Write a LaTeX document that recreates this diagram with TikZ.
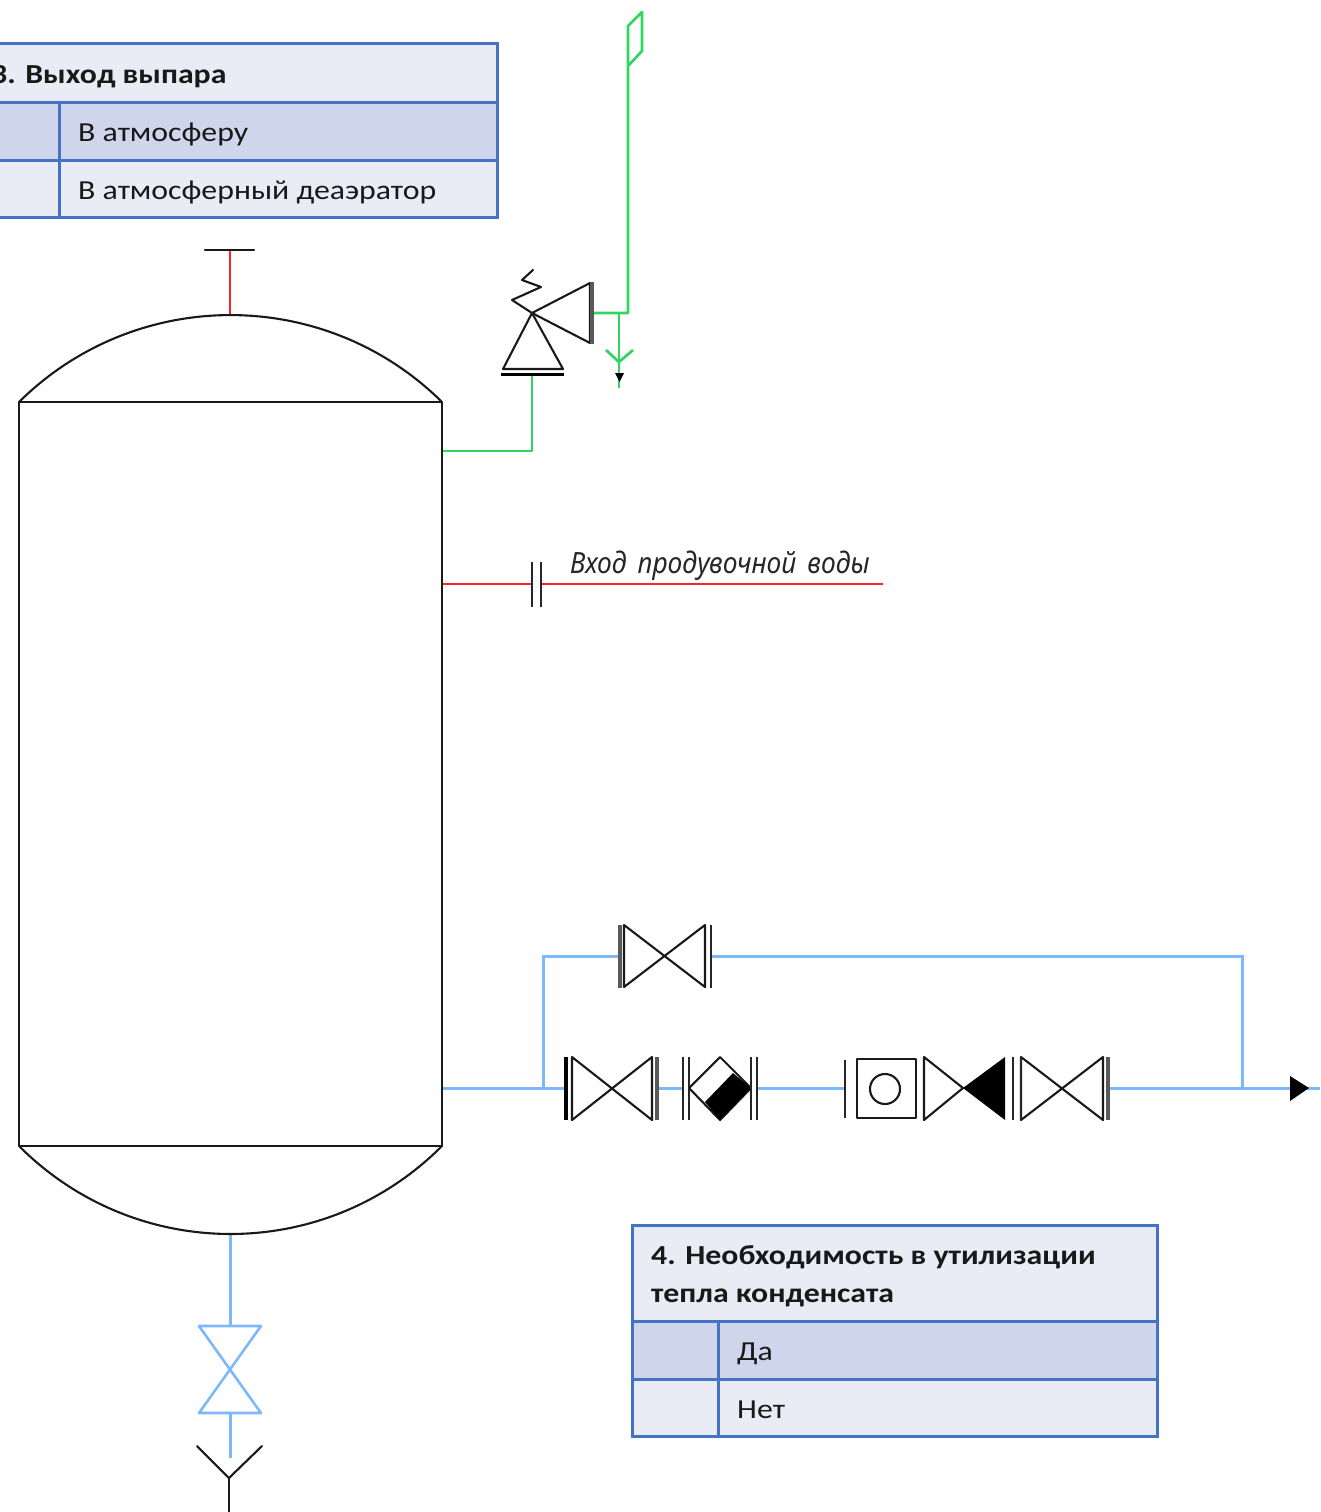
\documentclass[tikz,border=0pt]{standalone}
\usepackage{fontspec}
\setmainfont[FakeStretch=1.156]{Carlito}
\newfontfamily\labelfont[FakeStretch=0.9,WordSpace=1.6]{Noto Sans}
\tikzset{
  x=1pt,y=-1pt,
  sym/.style={draw=black!90,line width=2.1pt,line join=round,line cap=round},
  thick flange/.style={draw=black!65,line width=4pt},
  flange/.style={draw=black!85,line width=2.5pt},
  blueline/.style={draw=pipeblue,line width=3pt},
  greenline/.style={draw=pipegreen,line width=2.7pt,line join=round},
  redline/.style={draw=pipered,line width=2.3pt},
  tabhead/.style={fill=tabA,draw=tabline,line width=3pt},
  tabdark/.style={fill=tabB,draw=tabline,line width=3pt},
  tablight/.style={fill=tabA,draw=tabline,line width=3pt},
  tabtext/.style={anchor=base west,inner sep=0pt,font=\fontsize{27.5}{33}\selectfont,text=black!90},
  tabbold/.style={tabtext,font=\fontsize{27.5}{33}\selectfont\bfseries}
}
\definecolor{pipeblue}{HTML}{7DB9FA}
\definecolor{pipegreen}{HTML}{33D45F}
\definecolor{pipered}{HTML}{F0282D}
\definecolor{tabA}{HTML}{E9EBF5}
\definecolor{tabB}{HTML}{CFD5EA}
\definecolor{tabline}{HTML}{4472C4}
\begin{document}
\begin{tikzpicture}
\useasboundingbox (0,0) rectangle (1320,1512);
% named connection points
\coordinate (topapex) at (230,315);
\coordinate (topend) at (230,250);
\coordinate (greenout) at (442,451);
\coordinate (greenbend) at (532,451);
\coordinate (rvin) at (532,375);
\coordinate (rvout) at (592,313);
\coordinate (rvbend) at (628,313);
\coordinate (ventbot) at (628,66);
\coordinate (draintee) at (619,313);
\coordinate (draintop) at (619,362);
\coordinate (drainend) at (619,388);
\coordinate (redout) at (442,584);
\coordinate (fl1) at (532,584);
\coordinate (fl2) at (541,584);
\coordinate (redend) at (883,584);
\coordinate (blueout) at (442,1088);
\coordinate (teeA) at (543,1088);
\coordinate (cornerA) at (543,956);
\coordinate (bypassL) at (620,956);
\coordinate (bypassR) at (711,956);
\coordinate (cornerB) at (1242,956);
\coordinate (teeB) at (1242,1088);
\coordinate (v1L) at (566,1088);
\coordinate (v1R) at (658,1088);
\coordinate (chkL) at (683,1088);
\coordinate (chkR) at (757,1088);
\coordinate (trapL) at (845,1088);
\coordinate (v3R) at (1108,1088);
\coordinate (outEnd) at (1320,1088);
\coordinate (botapex) at (230,1234);
\coordinate (dvT) at (230,1326);
\coordinate (dvB) at (230,1413);
\coordinate (dvEnd) at (230,1458);
\coordinate (funnel) at (229,1478);
\coordinate (funnelEnd) at (229,1512);

% pipes
\draw[redline] (topapex) -- (topend);
\draw[greenline] (greenout) -- (greenbend) -- (rvin);
\draw[greenline] (rvout) -- (rvbend) -- (ventbot) -- (642,51) -- (642,12) -- (628,26) -- (ventbot);
\draw[greenline] (draintee) -- (draintop) -- (drainend);
\draw[greenline] (606,350) -- (draintop) -- (633,350);
\draw[redline] (redout) -- (fl1);
\draw[redline] (fl2) -- (redend);
\draw[blueline] (blueout) -- (v1L);
\draw[blueline] (teeA) -- (cornerA) -- (bypassL);
\draw[blueline] (bypassR) -- (cornerB) -- (teeB);
\draw[blueline] (v1R) -- (chkL);
\draw[blueline] (chkR) -- (trapL);
\draw[blueline] (v3R) -- (outEnd);
\draw[blueline] (botapex) -- (dvT);
\draw[blueline] (dvB) -- (dvEnd);

% vessel
\draw[sym] (19,402) rectangle (442,1146);
\draw[sym] (19,402) .. controls (136.2,286.1) and (324.8,286.1) .. (442,402);
\draw[sym] (19,1146) .. controls (136.2,1263.3) and (324.8,1263.3) .. (442,1146);
\draw[sym] (205,250) -- (254,250);

% relief valve
\draw[sym] (532,313) -- (503,369) -- (563,369) -- cycle;
\draw[sym] (532,313) -- (590,283) -- (590,343) -- cycle;
\draw[draw=black,line width=3pt] (501,374) -- (564,374);
\draw[thick flange] (592,282) -- (592,344);
\draw[sym] (532,313) -- (512,300) -- (541,287) -- (522,280) -- (533,270);
\fill (615,373) -- (624,373) -- (619.5,382) -- cycle;

% blind flange on blowdown line
\draw[flange] (532,562) -- (532,607);
\draw[flange] (541,562) -- (541,607);
\node[anchor=base west,inner sep=0pt,text=black!85] (lbl) at (570,573) {\labelfont\itshape\fontsize{29.3}{34}\selectfont Вход продувочной воды};

% bypass valve
\draw[sym] (624,925) -- (705,987) -- (705,925) -- (624,987) -- cycle;
\draw[thick flange] (620,925) -- (620,988);
\draw[flange] (711,925) -- (711,988);

% main line valve 1
\draw[sym] (572,1057) -- (652,1120) -- (652,1057) -- (572,1120) -- cycle;
\draw[draw=black,line width=3.6pt] (566,1057) -- (566,1120);
\draw[thick flange] (657,1057) -- (657,1120);

% check valve
\draw[flange] (683,1057) -- (683,1120);
\draw[flange] (689,1057) -- (689,1120);
\draw[sym] (689,1088) -- (720,1057) -- (751,1088) -- (720,1120) -- cycle;
\fill (705,1102) -- (733,1073) -- (751,1088) -- (720,1120) -- cycle;
\draw[flange] (751,1057) -- (751,1120);
\draw[flange] (757,1057) -- (757,1120);

% trap
\draw[flange] (845,1060) -- (845,1118);
\draw[sym] (857,1059) rectangle (916,1118);
\draw[sym] (885,1089) circle (15);

% half-black valve
\draw[sym] (924,1057) -- (963,1088) -- (924,1120) -- cycle;
\fill (963,1088) -- (1005,1057) -- (1005,1120) -- cycle;
\draw[flange] (1013,1057) -- (1013,1120);

% main line valve 3
\draw[sym] (1021,1057) -- (1103,1120) -- (1103,1057) -- (1021,1120) -- cycle;
\draw[flange] (1021,1057) -- (1021,1120);
\draw[thick flange] (1108,1057) -- (1108,1120);

% outlet arrow
\fill (1290,1076) -- (1309,1088) -- (1290,1101) -- cycle;

% drain valve
\draw[draw=pipeblue,line width=2.6pt,line join=round] (199,1326) -- (261,1326) -- (199,1413) -- (261,1413) -- cycle;
\draw[sym] (197,1446) -- (funnel) -- (262,1446);
\draw[sym] (funnel) -- (funnelEnd);

% table 3
\path[tabhead] (-10,44) rectangle (497,102);
\path[tabdark] (-10,102) rectangle (59,160);
\path[tabdark] (59,102) rectangle (497,160);
\path[tablight] (-10,160) rectangle (59,217);
\path[tablight] (59,160) rectangle (497,217);
\node[tabbold] (t3h) at (-9,84) {3. Выход выпара};
\node[tabtext] (t3a) at (78,141) {В атмосферу};
\node[tabtext] (t3b) at (78,199) {В атмосферный деаэратор};

% table 4
\path[tabhead] (632,1225) rectangle (1157,1321);
\path[tabdark] (632,1321) rectangle (718,1379);
\path[tabdark] (718,1321) rectangle (1157,1379);
\path[tablight] (632,1379) rectangle (718,1436);
\path[tablight] (718,1379) rectangle (1157,1436);
\node[tabbold] (t4h) at (651,1264) {4. Необходимость в утилизации};
\node[tabbold] (t4i) at (651,1302) {тепла конденсата};
\node[tabtext] (t4a) at (737,1360) {Да};
\node[tabtext] (t4b) at (737,1418) {Нет};
\end{tikzpicture}
\end{document}
